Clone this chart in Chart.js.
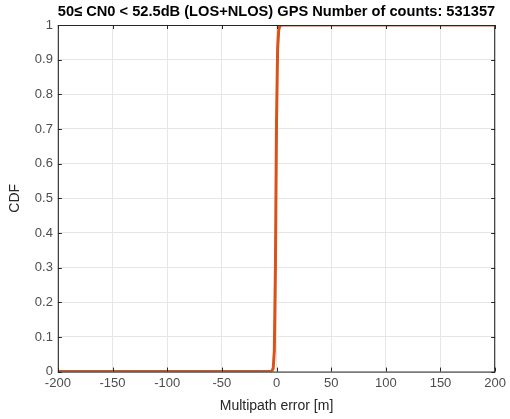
<!DOCTYPE html>
<html>
<head>
<meta charset="utf-8">
<script src="https://cdn.jsdelivr.net/npm/chart.js@4/dist/chart.umd.min.js"></script>
<style>
  html, body { margin: 0; padding: 0; background: #fff; }
  #wrap { width: 510px; height: 419px; }
</style>
</head>
<body>
<div id="wrap"><canvas id="cdf-chart"></canvas></div>
<script>
// multipath error [m] and CDF
const errorLOS = [-200, -5, -4, -3, -2, -1, 0, 1, 2, 3, 5, 200];
const cdfLOS   = [0, 0, 0.003, 0.01, 0.06, 0.3, 0.72, 0.93, 0.985, 0.997, 1, 1];

const errorAll = [-200, -5, -4, -3, -2, -1, 0, 1, 2, 3, 4, 5, 200];
const cdfAll   = [0, 0, 0.002, 0.01, 0.05, 0.25, 0.65, 0.9, 0.975, 0.993, 0.998, 1, 1];

const xTicks = [-200, -150, -100, -50, 0, 50, 100, 150, 200];
const yTicks = [0, 0.1, 0.2, 0.3, 0.4, 0.5, 0.6, 0.7, 0.8, 0.9, 1];

const titleText = '50\u2264 CN0 < 52.5dB (LOS+NLOS) GPS Number of counts: 531357';

function toPoints(xs, ys) {
  return xs.map((x, i) => ({ x: x, y: ys[i] }));
}

// box round the axes plus inward ticks, matlab style
const boxPlugin = {
  id: 'box',
  afterDraw(chart) {
    const ctx = chart.ctx;
    const a = chart.chartArea;
    const xs = chart.scales.x, ys = chart.scales.y;
    ctx.save();
    ctx.strokeStyle = '#262626';
    ctx.lineWidth = 1;
    ctx.strokeRect(a.left + 0.5, a.top + 0.5, a.right - a.left - 1, a.bottom - a.top);
    ctx.beginPath();
    xTicks.forEach(v => {
      const px = Math.round(xs.getPixelForValue(v)) + 0.5;
      ctx.moveTo(px, a.bottom); ctx.lineTo(px, a.bottom - 4);
      ctx.moveTo(px, a.top); ctx.lineTo(px, a.top + 4);
    });
    yTicks.forEach(v => {
      const py = Math.round(ys.getPixelForValue(v)) + 0.5;
      ctx.moveTo(a.left, py); ctx.lineTo(a.left + 4, py);
      ctx.moveTo(a.right, py); ctx.lineTo(a.right - 4, py);
    });
    ctx.stroke();
    ctx.restore();
  }
};

const ctx = document.getElementById('cdf-chart').getContext('2d');
new Chart(ctx, {
  type: 'scatter',
  data: {
    datasets: [
      {
        label: 'LOS+NLOS',
        data: toPoints(errorAll, cdfAll),
        showLine: true,
        borderColor: '#0072BD',
        borderWidth: 1,
        pointRadius: 0,
        order: 2
      },
      {
        label: 'CDF',
        data: toPoints(errorLOS, cdfLOS),
        showLine: true,
        borderColor: '#D95319',
        borderWidth: 3,
        pointRadius: 0,
        order: 1
      }
    ]
  },
  options: {
    responsive: true,
    maintainAspectRatio: false,
    animation: false,
    layout: { padding: { left: 5, right: 14, top: 1, bottom: 4 } },
    plugins: {
      legend: { display: false },
      tooltip: { enabled: false },
      title: {
        display: true,
        fullSize: false,
        text: titleText,
        color: '#000',
        font: { family: 'Liberation Sans', size: 15, weight: 'bold' },
        padding: { top: 2, bottom: 4 }
      }
    },
    scales: {
      x: {
        type: 'linear',
        min: -200, max: 200,
        afterBuildTicks: s => { s.ticks = xTicks.map(v => ({ value: v })); },
        ticks: { color: '#4d4d4d', font: { family: 'Liberation Sans', size: 13 }, maxRotation: 0, padding: 4 },
        grid: { color: '#e6e6e6', drawTicks: false },
        border: { display: false },
        title: {
          display: true, text: 'Multipath error [m]', color: '#262626',
          font: { family: 'Liberation Sans', size: 14 }, padding: { top: 3, bottom: 0 }
        }
      },
      y: {
        min: 0, max: 1,
        afterBuildTicks: s => { s.ticks = yTicks.map(v => ({ value: v })); },
        ticks: {
          color: '#4d4d4d', font: { family: 'Liberation Sans', size: 13 }, padding: 5,
          callback: v => String(v)
        },
        grid: { color: '#e6e6e6', drawTicks: false },
        border: { display: false },
        title: {
          display: true, text: 'CDF', color: '#262626',
          font: { family: 'Liberation Sans', size: 14 }, padding: { top: 2, bottom: 6 }
        }
      }
    }
  },
  plugins: [boxPlugin]
});
</script>
</body>
</html>
